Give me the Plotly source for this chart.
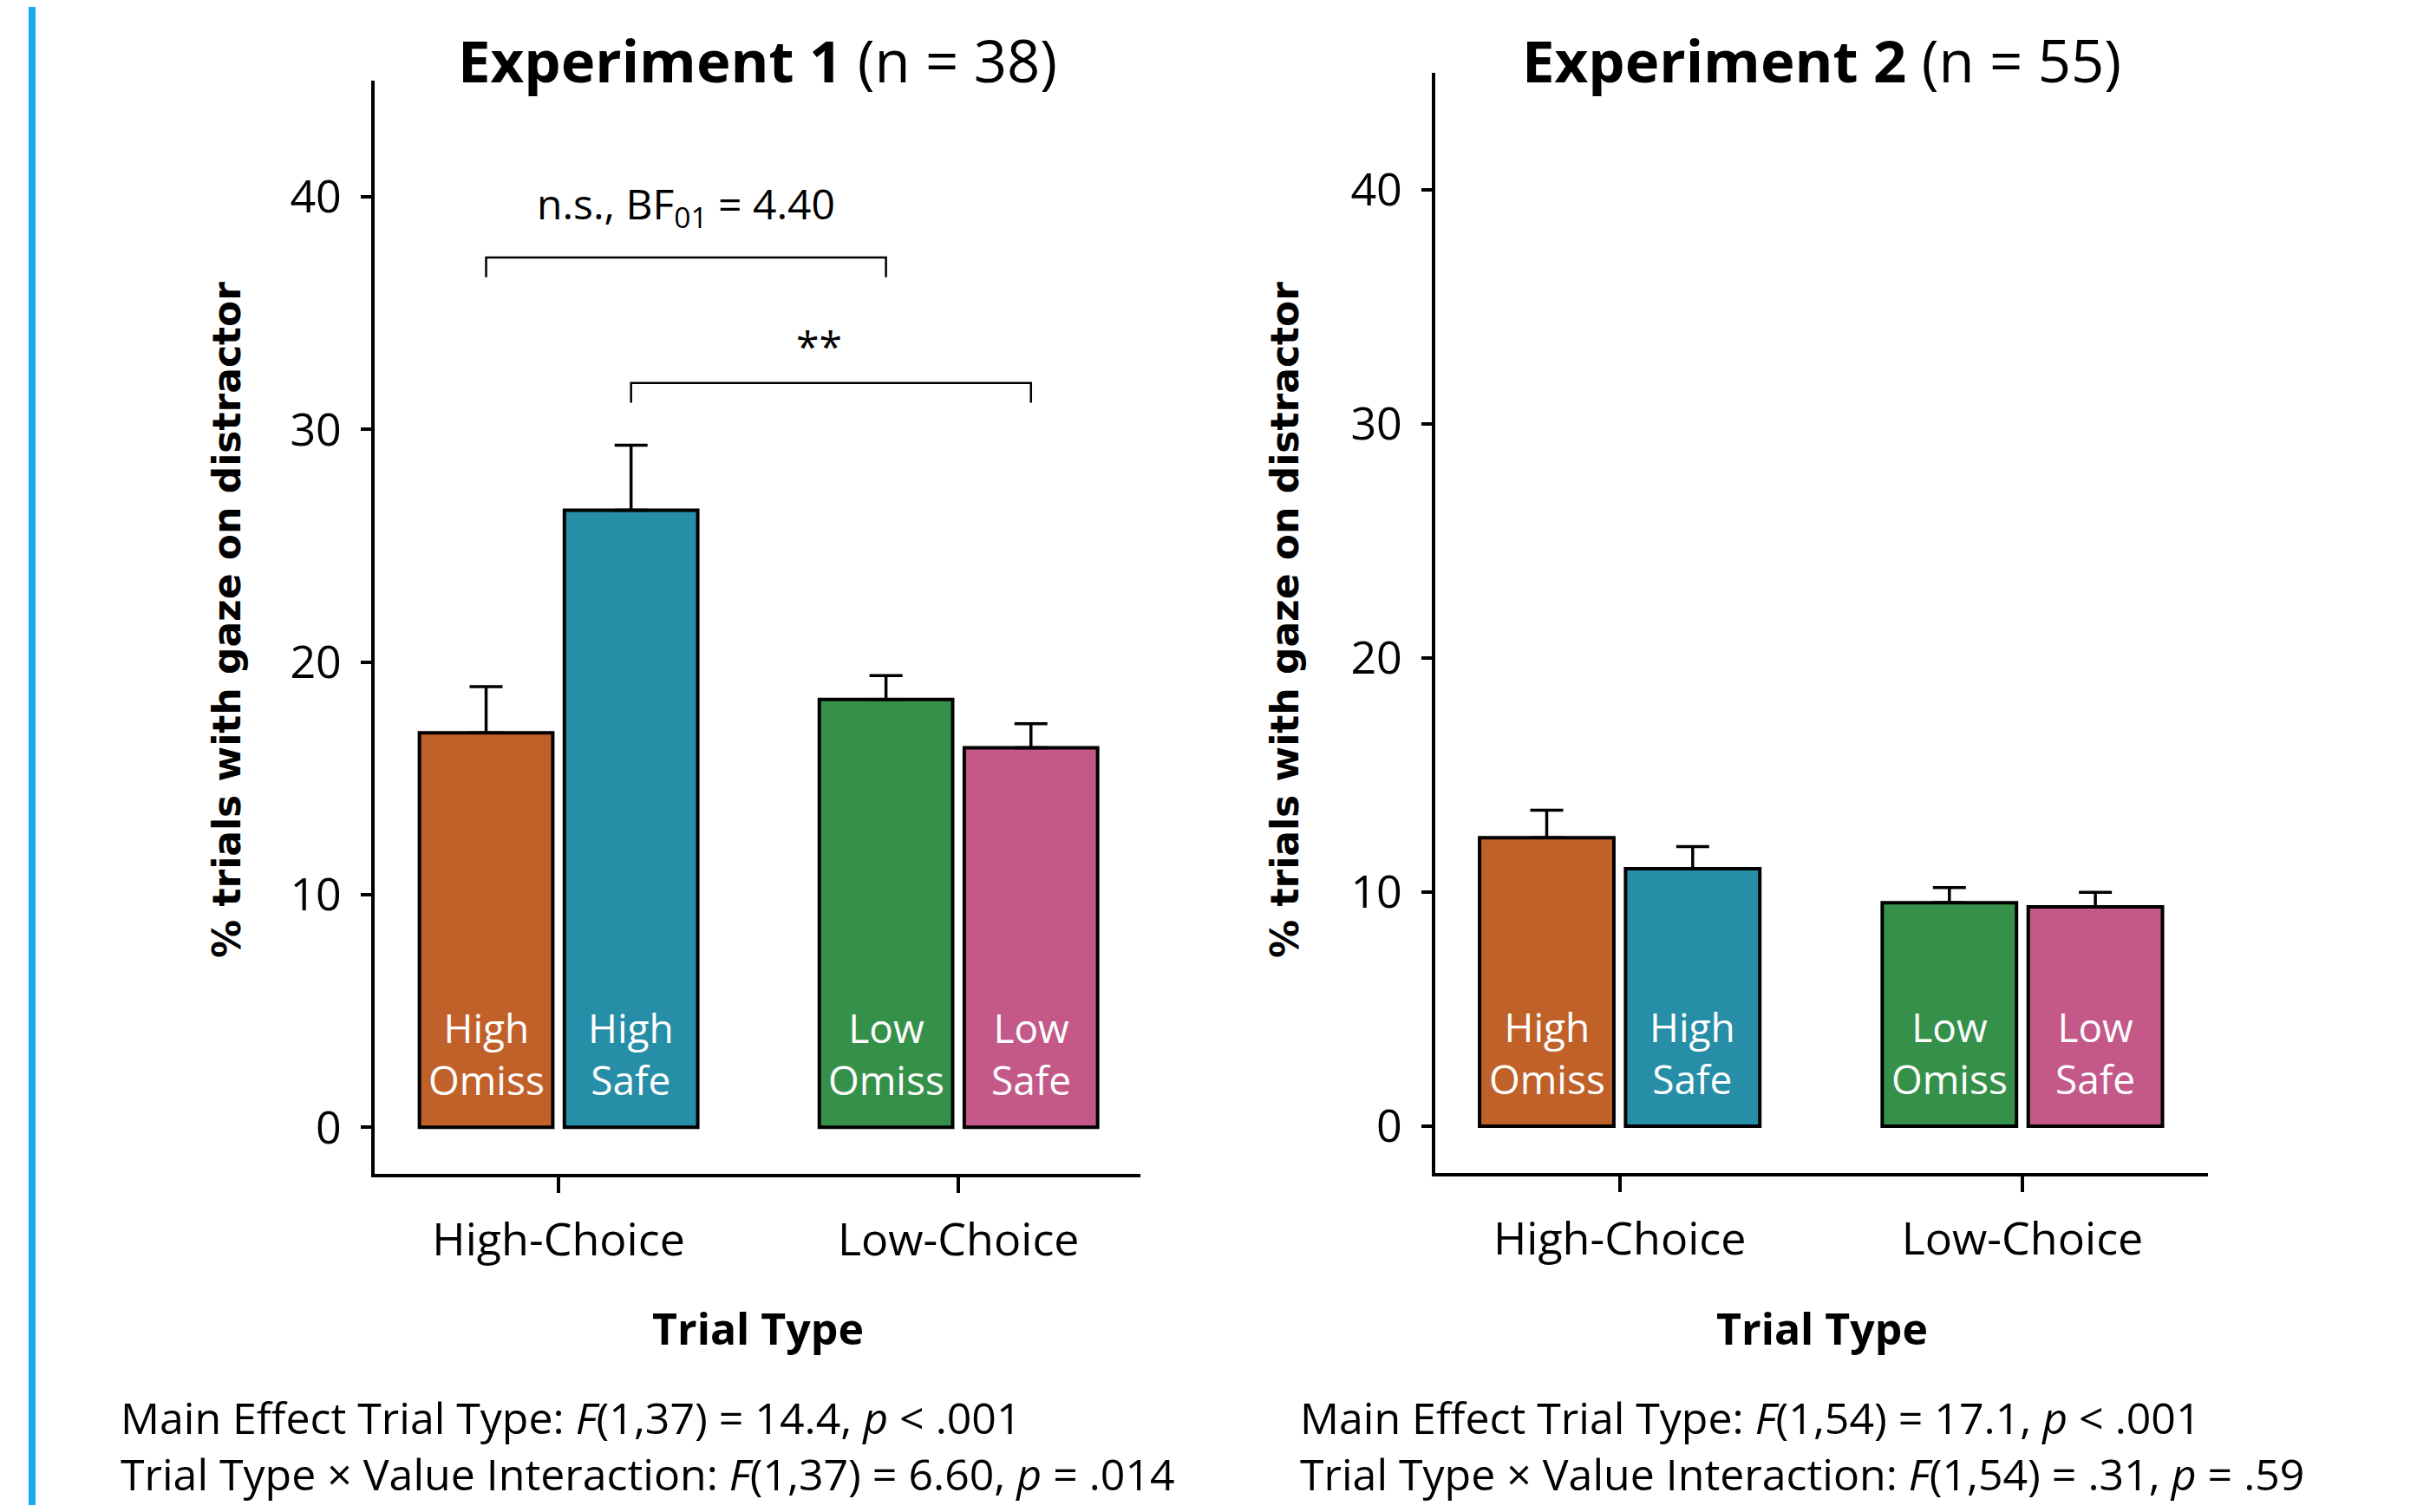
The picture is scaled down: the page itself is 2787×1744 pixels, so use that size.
import plotly.graph_objects as go

# ---------------- data ----------------
groups = ["High-Choice", "Low-Choice"]
group_pos = [0, 1]

exp1_omiss = [16.96, 18.40]
exp1_omiss_se = [1.99, 1.02]
exp1_safe = [26.53, 16.32]
exp1_safe_se = [2.80, 1.03]

exp2_omiss = [12.32, 9.55]
exp2_omiss_se = [1.18, 0.64]
exp2_safe = [11.00, 9.37]
exp2_safe_se = [0.94, 0.62]

omiss_labels = ["High<br>Omiss", "Low<br>Omiss"]
safe_labels = ["High<br>Safe", "Low<br>Safe"]
omiss_colors = ["#C1612A", "#35914A"]
safe_colors = ["#268EA7", "#C35889"]

yticks = [0, 10, 20, 30, 40]

titles = ["<b>Experiment 1</b> (n = 38)", "<b>Experiment 2</b> (n = 55)"]
stats_exp1 = ["Main Effect Trial Type: <i>F</i>(1,37) = 14.4, <i>p</i> < .001",
              "Trial Type × Value Interaction: <i>F</i>(1,37) = 6.60, <i>p</i> = .014"]
stats_exp2 = ["Main Effect Trial Type: <i>F</i>(1,54) = 17.1, <i>p</i> < .001",
              "Trial Type × Value Interaction: <i>F</i>(1,54) = .31, <i>p</i> = .59"]

# significance brackets for experiment 1:
# (trace from, group from, trace to, group to, bracket height, label, label height)
brackets_exp1 = [
    (0, 0, 0, 1, 37.4, "n.s., BF<sub>01</sub> = 4.40", 39.6),
    (1, 0, 1, 1, 32.0, "**", 33.6),
]
bracket_label_dx = [0.0, -0.03]
bracket_drop = 0.85

# ---------------- geometry ----------------
SCREEN_W, SCREEN_H = 2787, 1744
BODY = 8  # default page margin
Wf, Hf = SCREEN_W - 2 * BODY, SCREEN_H - 2 * BODY


def px(sx):
    return (sx - BODY) / Wf


def py(sy):
    return 1 - (sy - BODY) / Hf


FONT = "Open Sans"
BARGAP = 0.275
offset = (1 - BARGAP) / 4

fig = go.Figure()

panels = [
    dict(xa="x", ya="y", omiss=exp1_omiss, omiss_se=exp1_omiss_se, safe=exp1_safe, safe_se=exp1_safe_se),
    dict(xa="x2", ya="y2", omiss=exp2_omiss, omiss_se=exp2_omiss_se, safe=exp2_safe, safe_se=exp2_safe_se),
]

annotations = []
for p in panels:
    for k, (vals, se, labels, colors) in enumerate([
        (p["omiss"], p["omiss_se"], omiss_labels, omiss_colors),
        (p["safe"], p["safe_se"], safe_labels, safe_colors),
    ]):
        fig.add_trace(go.Bar(
            x=group_pos, y=vals, xaxis=p["xa"], yaxis=p["ya"],
            marker=dict(color=colors, line=dict(color="black", width=4)),
            error_y=dict(type="data", symmetric=False, array=se, arrayminus=[0] * len(se),
                         color="black", thickness=3.5, width=19),
            showlegend=False, hoverinfo="skip",
        ))
        # bar labels at the bar base
        for g, lab in zip(group_pos, labels):
            annotations.append(dict(
                x=g + (-offset if k == 0 else offset), y=0, xref=p["xa"], yref=p["ya"],
                text=lab, showarrow=False, xanchor="center", yanchor="bottom", yshift=22,
                font=dict(family=FONT, size=46, color="white")))

axis_common = dict(showline=True, linewidth=3.5, linecolor="black", showgrid=False,
                   zeroline=False, ticks="outside", tickwidth=3.5, tickcolor="black",
                   tickfont=dict(family=FONT, size=52, color="black"))

left_x = [px(432), px(1315)]
right_x = [px(1655), px(2546)]
left_y = [py(1354), py(93)]
right_y = [py(1353), py(84)]

fig.update_layout(
    width=Wf, height=Hf, margin=dict(l=0, r=0, t=0, b=0),
    paper_bgcolor="white", plot_bgcolor="white",
    barmode="group", bargap=BARGAP, bargroupgap=0.08,
    showlegend=False,
    xaxis=dict(domain=left_x, range=[-0.46, 1.455], tickvals=group_pos, ticktext=groups,
               ticklen=18, ticklabelstandoff=10, anchor="y", **axis_common),
    yaxis=dict(domain=left_y, range=[-2, 45], tickvals=yticks, ticklen=12,
               ticklabelstandoff=12, anchor="x", **axis_common),
    xaxis2=dict(domain=right_x, range=[-0.458, 1.461], tickvals=group_pos, ticktext=groups,
                ticklen=18, ticklabelstandoff=10, anchor="y2", **axis_common),
    yaxis2=dict(domain=right_y, range=[-2, 45], tickvals=yticks, ticklen=12,
                ticklabelstandoff=12, anchor="x2", **axis_common),
)

shapes = []
for (t_from, g_from, t_to, g_to, h, label, lab_y), dx in zip(brackets_exp1, bracket_label_dx):
    x0 = group_pos[g_from] + (-offset if t_from == 0 else offset)
    x1 = group_pos[g_to] + (-offset if t_to == 0 else offset)
    shapes.append(dict(type="path", xref="x", yref="y",
                       path=f"M {x0},{h - bracket_drop} L {x0},{h} L {x1},{h} L {x1},{h - bracket_drop}",
                       line=dict(color="black", width=2.5)))
    annotations.append(dict(x=(x0 + x1) / 2 + dx, y=lab_y, xref="x", yref="y", text=label,
                            showarrow=False, xanchor="center", yanchor="middle",
                            font=dict(family=FONT, size=48, color="black")))

# left blue stripe
shapes.append(dict(type="rect", xref="paper", yref="paper", x0=px(33), x1=px(41), y0=-0.01, y1=1.01,
                   fillcolor="#16ACEC", line=dict(width=0)))

# titles and x titles
for title, xd in zip(titles, [left_x, right_x]):
    annotations.append(dict(x=(xd[0] + xd[1]) / 2, y=py(69), xref="paper", yref="paper",
                            text=title, showarrow=False, xanchor="center", yanchor="middle",
                            font=dict(family=FONT, size=67, color="black")))
    annotations.append(dict(x=(xd[0] + xd[1]) / 2, y=py(1532), xref="paper", yref="paper",
                            text="<b>Trial Type</b>", showarrow=False, xanchor="center", yanchor="middle",
                            font=dict(family=FONT, size=50, color="black")))

# y titles
for xc in [261, 1481]:
    annotations.append(dict(x=px(xc), y=py(715), xref="paper", yref="paper",
                            text="<b>% trials with gaze on distractor</b>", textangle=-90,
                            showarrow=False, xanchor="center", yanchor="middle",
                            font=dict(family="DejaVu Sans", size=44, color="black")))

# stats text (two lines in one block)
for lines, xl in [(stats_exp1, 137), (stats_exp2, 1497)]:
    annotations.append(dict(x=px(xl), y=0, xref="paper", yref="paper", text="<br>".join(lines),
                            showarrow=False, xanchor="left", yanchor="bottom", align="left",
                            font=dict(family=FONT, size=50, color="black")))

fig.update_layout(shapes=shapes, annotations=annotations)

fig.write_html("out.html")
